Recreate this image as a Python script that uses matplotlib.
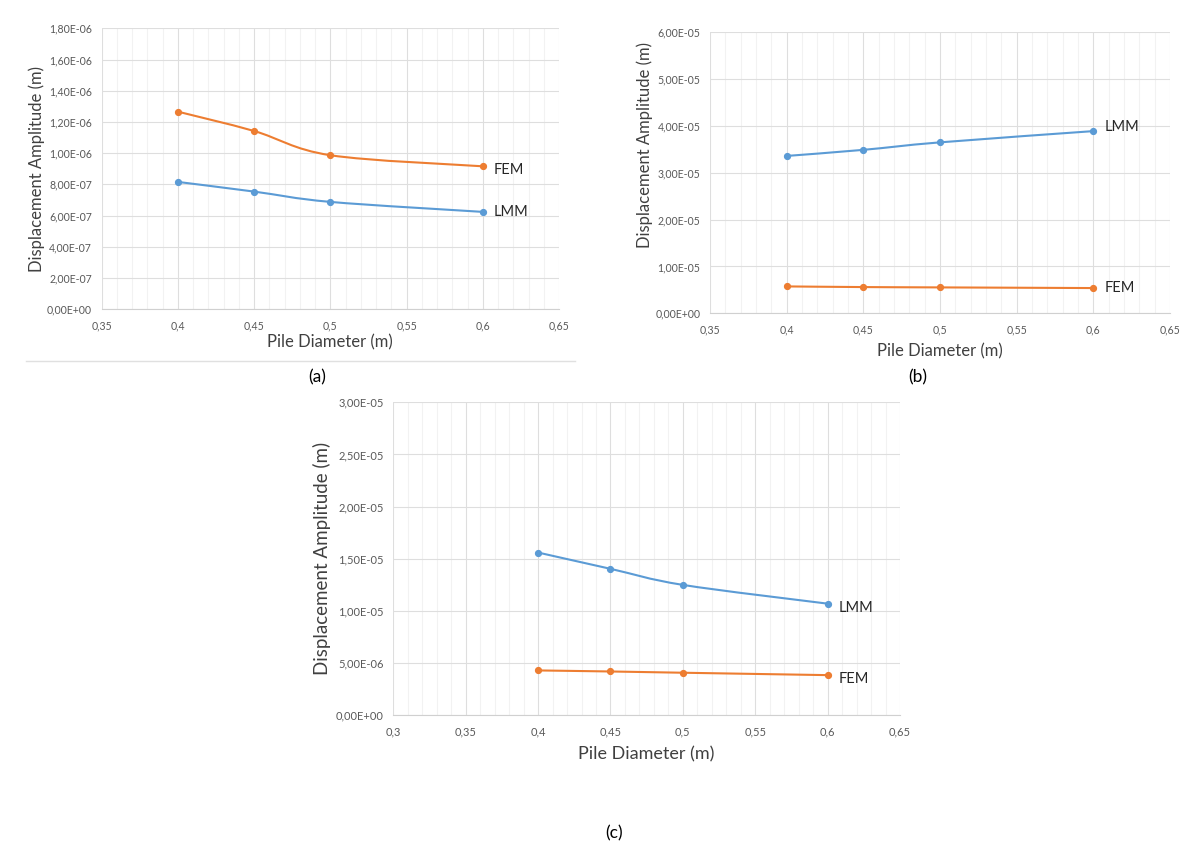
import numpy as np
import matplotlib
matplotlib.use('Agg')
from matplotlib import pyplot as plt
from matplotlib.path import Path
from matplotlib.patches import PathPatch
from matplotlib.ticker import FuncFormatter, MultipleLocator
from matplotlib.lines import Line2D

plt.rcParams['font.family'] = ['Lato', 'DejaVu Sans']

# pile diameters (m)
diam = [0.4, 0.45, 0.5, 0.6]

# (a)
fem_a = [1.266e-6, 1.142e-6, 0.987e-6, 0.916e-6]
lmm_a = [0.816e-6, 0.754e-6, 0.688e-6, 0.624e-6]
# (b)
fem_b = [0.574e-5, 0.560e-5, 0.553e-5, 0.539e-5]
lmm_b = [3.36e-5, 3.49e-5, 3.65e-5, 3.89e-5]
# (c)
fem_c = [4.30e-6, 4.20e-6, 4.08e-6, 3.85e-6]
lmm_c = [15.6e-6, 14.04e-6, 12.5e-6, 10.7e-6]

BLUE = '#5B9BD5'
ORANGE = '#ED7D31'
W, H = 1199, 866


def smooth_path(x, y):
    # excel style smoothed line: catmull-rom through the points as cubic bezier
    x = np.asarray(x, float)
    y = np.asarray(y, float)
    px = np.concatenate([[x[0]], x, [x[-1]]])
    py = np.concatenate([[y[0]], y, [y[-1]]])
    verts = [(x[0], y[0])]
    codes = [Path.MOVETO]
    for i in range(1, len(x)):
        c1 = (px[i] + (px[i + 1] - px[i - 1]) / 6, py[i] + (py[i + 1] - py[i - 1]) / 6)
        c2 = (px[i + 1] - (px[i + 2] - px[i]) / 6, py[i + 1] - (py[i + 2] - py[i]) / 6)
        verts += [c1, c2, (x[i], y[i])]
        codes += [Path.CURVE4] * 3
    return Path(verts, codes)


def sci_comma(v, pos):
    s = '%.2E' % v
    mant, exp = s.split('E')
    sign = exp[0]
    return mant.replace('.', ',') + 'E' + sign + exp[1:].zfill(2)


def dec_comma(v, pos):
    s = ('%.2f' % v).rstrip('0').rstrip('.')
    return s.replace('.', ',')


def panel(rect, xlim, ystep, ymax, series, ylab_y, xlab_y, ylsize, xlsize, tsize):
    l, t, r, b = rect
    ax = fig.add_axes([l / W, 1 - b / H, (r - l) / W, (b - t) / H])
    ax.set_xlim(*xlim)
    ax.set_ylim(0, ymax)
    ax.xaxis.set_major_locator(MultipleLocator(0.05))
    ax.xaxis.set_minor_locator(MultipleLocator(0.01))
    ax.yaxis.set_major_locator(MultipleLocator(ystep))
    ax.xaxis.set_major_formatter(FuncFormatter(dec_comma))
    ax.yaxis.set_major_formatter(FuncFormatter(sci_comma))
    ax.grid(which='major', color='#DEDEDE', lw=0.8)
    ax.grid(which='minor', axis='x', color='#F2F2F2', lw=0.8)
    ax.set_axisbelow(True)
    for s in ax.spines.values():
        s.set_visible(False)
    ax.spines['bottom'].set_visible(True)
    ax.spines['bottom'].set_color('#D0D0D0')
    ax.tick_params(which='both', length=0, colors='#595959', labelsize=tsize)
    ax.tick_params(axis='x', pad=8)
    ax.tick_params(axis='y', pad=7)
    for ys, col, name, dy in series:
        ax.add_patch(PathPatch(smooth_path(diam, ys), fill=False, edgecolor=col, lw=1.5))
        ax.plot(diam, ys, 'o', color=col, ms=4.2, mec=col)
        ax.annotate(name, xy=(diam[-1], ys[-1]), xytext=(8, dy), textcoords='offset points',
                    va='center', ha='left', fontsize=10.5, color='#262626')
    ax.set_ylabel('Displacement Amplitude (m)', fontsize=ylsize, color='#404040')
    ax.yaxis.set_label_coords(-0.123, ylab_y)
    ax.set_xlabel('Pile Diameter (m)', fontsize=xlsize, color='#404040')
    ax.xaxis.set_label_coords(0.5, xlab_y)
    ax.xaxis.label.set_va('top')
    return ax


fig = plt.figure(figsize=(W / 100, H / 100), dpi=100)

panel((101.7, 28.3, 559, 309.3), (0.35, 0.65), 0.2e-6, 1.8e-6,
      [(fem_a, ORANGE, 'FEM', -3), (lmm_a, BLUE, 'LMM', 0)], 0.5, -0.088, 12, 12, 7.6)
panel((710, 32.3, 1170, 313.3), (0.35, 0.65), 1e-5, 6e-5,
      [(lmm_b, BLUE, 'LMM', 3), (fem_b, ORANGE, 'FEM', 0)], 0.6, -0.108, 12, 12, 7.6)
panel((393.3, 402.3, 900, 715.3), (0.3, 0.65), 5e-6, 3e-5,
      [(lmm_c, BLUE, 'LMM', -3), (fem_c, ORANGE, 'FEM', -3)], 0.5, -0.1, 13.5, 13, 8)

fig.add_artist(Line2D([26 / W, 575 / W], [1 - 361 / H, 1 - 361 / H], color='#E0E0E0', lw=1))

fig.text(317 / W, 1 - 377 / H, '(a)', ha='center', va='center', fontsize=12.5)
fig.text(918 / W, 1 - 377 / H, '(b)', ha='center', va='center', fontsize=12.5)
fig.text(614 / W, 1 - 833 / H, '(c)', ha='center', va='center', fontsize=12.5)

fig.savefig('out.png', dpi=100, facecolor='white')
